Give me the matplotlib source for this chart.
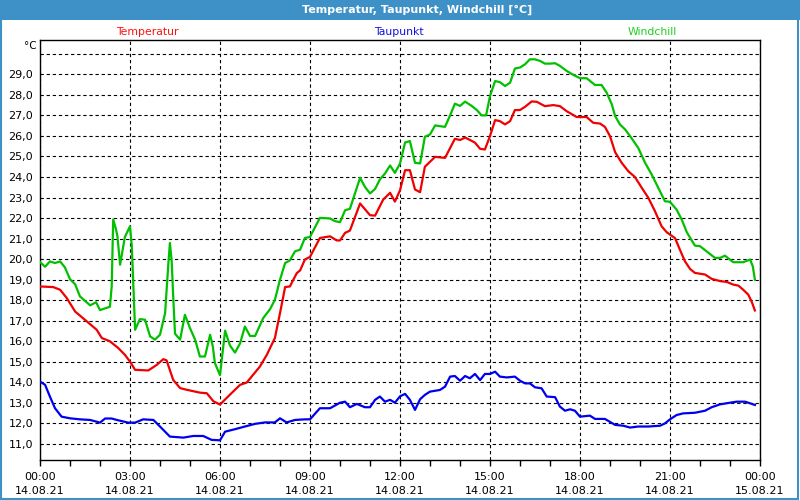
import matplotlib
matplotlib.use('Agg')
import matplotlib.pyplot as plt
from matplotlib.patches import Rectangle
from matplotlib.ticker import FixedLocator, MultipleLocator

temp_h = [0.0, 0.44, 0.67, 0.89, 1.17, 1.56, 1.89, 2.06, 2.33, 2.61, 2.83, 3.0, 3.17, 3.61,
          3.89, 4.11, 4.22, 4.44, 4.67, 4.89, 5.33, 5.56, 5.78, 6.0, 6.33, 6.67, 6.89, 7.33,
          7.56, 7.83, 8.0, 8.17, 8.33, 8.56, 8.67, 8.83, 9.0, 9.33, 9.67, 9.89, 10.0, 10.17,
          10.33, 10.67, 11.0, 11.17, 11.44, 11.67, 11.83, 12.0, 12.17, 12.33, 12.5, 12.67,
          12.83, 13.17, 13.5, 13.83, 14.0, 14.17, 14.39, 14.5, 14.67, 14.83, 15.0, 15.17,
          15.33, 15.5, 15.67, 15.83, 16.0, 16.17, 16.39, 16.56, 16.83, 17.11, 17.33, 17.56,
          17.89, 18.22, 18.44, 18.67, 18.83, 19.0, 19.17, 19.39, 19.61, 19.83, 20.06, 20.28,
          20.5, 20.72, 20.89, 21.17, 21.33, 21.5, 21.67, 21.83, 22.17, 22.39, 22.67, 22.89,
          23.11, 23.28, 23.44, 23.61, 23.72, 23.83]
temp_v = [18.67, 18.64, 18.51, 18.11, 17.45, 16.97, 16.56, 16.16, 16.0, 15.67, 15.34, 15.01,
          14.61, 14.58, 14.85, 15.13, 15.07, 14.12, 13.72, 13.64, 13.5, 13.47, 13.08, 12.92,
          13.4, 13.88, 13.99, 14.77, 15.34, 16.16, 17.37, 18.64, 18.67, 19.32, 19.45, 19.98,
          20.11, 21.03, 21.11, 20.91, 20.91, 21.28, 21.39, 22.71, 22.14, 22.12, 22.9, 23.23,
          22.8, 23.35, 24.33, 24.33, 23.39, 23.26, 24.5, 24.98, 24.93, 25.86, 25.8, 25.92,
          25.76, 25.67, 25.37, 25.34, 25.99, 26.77, 26.72, 26.56, 26.72, 27.26, 27.26, 27.42,
          27.68, 27.66, 27.45, 27.5, 27.45, 27.2, 26.92, 26.92, 26.64, 26.6, 26.44, 25.99,
          25.21, 24.69, 24.28, 24.0, 23.47, 22.98, 22.33, 21.6, 21.31, 21.02, 20.46, 19.89,
          19.52, 19.33, 19.25, 19.04, 18.93, 18.89, 18.76, 18.71, 18.51, 18.27, 17.94, 17.5]

tau_h = [0.0, 0.17, 0.33, 0.5, 0.72, 1.0, 1.33, 1.67, 2.0, 2.17, 2.39, 2.56, 2.94, 3.17, 3.44,
         3.78, 4.0, 4.33, 4.78, 5.11, 5.44, 5.72, 6.0, 6.17, 6.5, 6.83, 7.17, 7.5, 7.83, 8.0,
         8.22, 8.5, 8.83, 9.0, 9.33, 9.67, 10.0, 10.17, 10.33, 10.56, 10.83, 11.0, 11.17,
         11.33, 11.5, 11.67, 11.83, 12.0, 12.17, 12.33, 12.5, 12.67, 12.83, 13.0, 13.33, 13.5,
         13.67, 13.83, 14.0, 14.17, 14.33, 14.5, 14.67, 14.83, 15.0, 15.17, 15.33, 15.56,
         15.83, 16.0, 16.17, 16.33, 16.5, 16.72, 16.89, 17.17, 17.33, 17.5, 17.67, 17.83,
         18.0, 18.33, 18.5, 18.83, 19.17, 19.44, 19.67, 19.94, 20.28, 20.67, 20.83, 21.0,
         21.22, 21.44, 21.83, 22.17, 22.39, 22.67, 23.0, 23.22, 23.5, 23.67, 23.83]
tau_v = [14.04, 13.88, 13.31, 12.74, 12.33, 12.25, 12.2, 12.17, 12.04, 12.24, 12.24, 12.17,
         12.04, 12.04, 12.2, 12.17, 11.85, 11.36, 11.31, 11.39, 11.39, 11.2, 11.18, 11.6,
         11.72, 11.85, 11.98, 12.05, 12.05, 12.25, 12.05, 12.17, 12.2, 12.2, 12.74, 12.74,
         13.01, 13.06, 12.79, 12.95, 12.79, 12.79, 13.15, 13.31, 13.06, 13.15, 13.01, 13.32,
         13.44, 13.15, 12.66, 13.18, 13.39, 13.55, 13.63, 13.79, 14.28, 14.31, 14.08, 14.31,
         14.2, 14.41, 14.11, 14.41, 14.41, 14.52, 14.28, 14.24, 14.28, 14.08, 13.95, 13.95,
         13.76, 13.71, 13.31, 13.28, 12.82, 12.62, 12.69, 12.62, 12.33, 12.38, 12.22, 12.22,
         11.93, 11.89, 11.8, 11.85, 11.85, 11.89, 12.0, 12.2, 12.41, 12.49, 12.52, 12.62,
         12.79, 12.93, 13.01, 13.06, 13.06, 12.98, 12.9]

wind_h = [0.0, 0.17, 0.33, 0.5, 0.67, 0.83, 1.0, 1.17, 1.33, 1.67, 1.87, 2.0, 2.33, 2.39,
          2.44, 2.53, 2.58, 2.67, 2.83, 3.0, 3.06, 3.17, 3.33, 3.5, 3.67, 3.83, 4.0, 4.17,
          4.28, 4.33, 4.39, 4.44, 4.5, 4.67, 4.83, 5.0, 5.17, 5.33, 5.5, 5.67, 5.76, 5.83,
          6.0, 6.17, 6.33, 6.5, 6.67, 6.83, 7.0, 7.17, 7.44, 7.67, 7.83, 8.0, 8.17, 8.33,
          8.5, 8.67, 8.83, 9.0, 9.33, 9.67, 9.83, 10.0, 10.17, 10.33, 10.67, 10.83, 11.0,
          11.17, 11.33, 11.5, 11.67, 11.83, 12.0, 12.17, 12.33, 12.5, 12.67, 12.83, 13.0,
          13.17, 13.5, 13.67, 13.83, 14.0, 14.17, 14.39, 14.56, 14.72, 14.87, 15.0, 15.17,
          15.33, 15.5, 15.67, 15.83, 16.0, 16.17, 16.33, 16.5, 16.67, 16.83, 17.0, 17.17,
          17.33, 17.56, 17.78, 18.0, 18.22, 18.5, 18.72, 18.89, 19.06, 19.17, 19.33, 19.5,
          19.67, 19.94, 20.17, 20.39, 20.61, 20.83, 21.0, 21.22, 21.39, 21.56, 21.83, 22.0,
          22.22, 22.5, 22.67, 22.83, 23.11, 23.44, 23.67, 23.76, 23.83]
wind_v = [19.86, 19.63, 19.89, 19.81, 19.89, 19.6, 19.02, 18.78, 18.19, 17.75, 17.9, 17.52,
          17.68, 18.67, 21.93, 21.47, 21.12, 19.73, 21.08, 21.6, 20.63, 16.56, 17.08, 17.05,
          16.24, 16.08, 16.32, 17.37, 19.81, 20.79, 19.89, 18.19, 16.37, 16.08, 17.29, 16.64,
          16.08, 15.26, 15.26, 16.32, 15.75, 14.94, 14.35, 16.52, 15.8, 15.45, 15.9, 16.72,
          16.26, 16.26, 17.13, 17.57, 18.02, 19.0, 19.81, 19.94, 20.38, 20.46, 21.03, 21.08,
          22.01, 21.98, 21.85, 21.8, 22.38, 22.45, 23.96, 23.52, 23.2, 23.42, 23.88, 24.17,
          24.56, 24.2, 24.65, 25.68, 25.75, 24.69, 24.66, 25.96, 26.07, 26.51, 26.44, 27.0,
          27.57, 27.46, 27.67, 27.46, 27.26, 27.0, 27.0, 27.94, 28.67, 28.62, 28.43, 28.59,
          29.28, 29.33, 29.49, 29.73, 29.73, 29.65, 29.52, 29.52, 29.54, 29.41, 29.16, 28.97,
          28.81, 28.81, 28.48, 28.48, 28.1, 27.54, 26.97, 26.56, 26.32, 25.99, 25.42, 24.69,
          24.12, 23.47, 22.82, 22.79, 22.41, 21.93, 21.31, 20.66, 20.63, 20.38, 20.06, 20.06,
          20.17, 19.85, 19.85, 19.98, 19.65, 19.0]

x_ticks = [0, 3, 6, 9, 12, 15, 18, 21, 24]
x_labels = ['00:00\n14.08.21', '03:00\n14.08.21', '06:00\n14.08.21', '09:00\n14.08.21',
            '12:00\n14.08.21', '15:00\n14.08.21', '18:00\n14.08.21', '21:00\n14.08.21',
            '00:00\n15.08.21']
y_grid = list(range(11, 31))
y_labels = ['%d,0' % v for v in range(11, 30)] + ['']

series_names = ['Temperatur', 'Taupunkt', 'Windchill']
line_colors = ['#f00000', '#0000f0', '#00c000']
label_colors = ['#ff1010', '#1010e0', '#20d020']

frame_blue = '#3d91c6'
narrow = ['Liberation Sans Narrow', 'DejaVu Sans']

fig = plt.figure(figsize=(8, 5), dpi=100)
fig.patch.set_facecolor('white')

# Titelleiste und Rahmen
fig.patches.append(Rectangle((0, 1 - 20 / 500), 1, 20 / 500, transform=fig.transFigure,
                             facecolor=frame_blue, edgecolor='none', zorder=0))
fig.patches.append(Rectangle((0.001, 0.003), 0.997, 0.99, transform=fig.transFigure,
                             facecolor='none', edgecolor=frame_blue, linewidth=1.5, zorder=0))
fig.text(417 / 800, 1 - 10 / 500, 'Temperatur, Taupunkt, Windchill [°C]', color='white',
         ha='center', va='center', fontsize=8.0, fontweight='bold', family=narrow)

ax = fig.add_axes([40 / 800, 40 / 500, 720 / 800, 420 / 500])
ax.plot(temp_h, temp_v, color=line_colors[0], lw=1.6, zorder=3)
ax.plot(tau_h, tau_v, color=line_colors[1], lw=1.6, zorder=3)
ax.plot(wind_h, wind_v, color=line_colors[2], lw=1.6, zorder=3)

ax.set_xlim(0, 24)
ax.set_ylim(10.22, 30.67)

ax.xaxis.set_major_locator(FixedLocator(x_ticks))
ax.xaxis.set_minor_locator(MultipleLocator(1))
ax.set_xticklabels(x_labels, fontsize=8, linespacing=1.5)
ax.tick_params(axis='x', which='both', direction='out', length=4, width=1, pad=5)

ax.yaxis.set_major_locator(FixedLocator(y_grid))
ax.set_yticklabels(y_labels, fontsize=8)
ax.tick_params(axis='y', length=0, pad=5)

ax.grid(True, which='major', color='black', linestyle=(0, (3, 2.5)), linewidth=0.8)
for s in ax.spines.values():
    s.set_color('black')
    s.set_linewidth(1)

# Legende als farbige Beschriftung über dem Diagramm
legend_x = [147, 399, 652]
for name, col, lx in zip(series_names, label_colors, legend_x):
    fig.text(lx / 800, 1 - 32 / 500, name, color=col, ha='center', va='center', fontsize=7.8,
             family=narrow)
fig.text(30 / 800, 1 - 46 / 500, '°C', ha='center', va='center', fontsize=7.5,
         family=narrow)

fig.savefig('out.png', dpi=100)
